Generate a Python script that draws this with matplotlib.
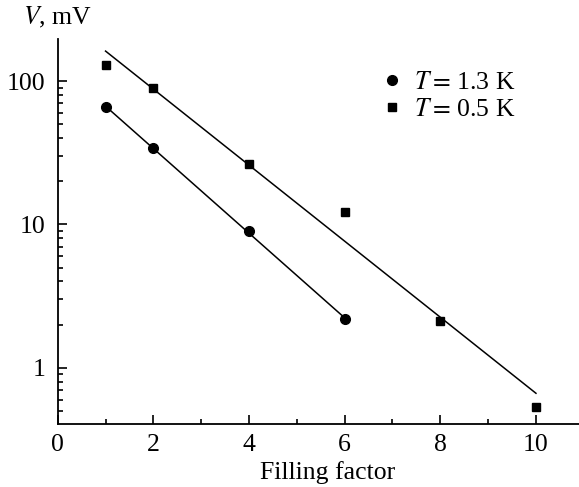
import numpy as np
import matplotlib
matplotlib.use("Agg")
import matplotlib.pyplot as plt
from matplotlib.ticker import MultipleLocator, LogLocator, FuncFormatter, NullFormatter

plt.rcParams["font.family"] = ["Liberation Serif", "DejaVu Serif"]
plt.rcParams["mathtext.fontset"] = "stix"

# data
Filling_Hot = [1, 2, 4, 6]
V_Hot = [65.6, 34.0, 9.0, 2.18]          # T = 1.3 K

Filling_Cold = [1, 2, 4, 6, 8, 10]
V_Cold = [129, 90, 26.3, 12.2, 2.13, 0.53]  # T = 0.5 K

Labels = ["$T = \\,$1.3 K", "$T = \\,$0.5 K"]

FontSize = 18.5


def Fit_Line(X, Y):
    # straight line in log scale (exponential fit)
    K, B = np.polyfit(X, np.log10(Y), 1)
    Xs = np.array([min(X), max(X)])
    return Xs, 10 ** (K * Xs + B)


Fig = plt.figure(figsize=(5.79, 4.87), dpi=100)
Ax = Fig.add_axes([0.0997, 0.1287, 0.9003, 0.7902])

Xs, Ys = Fit_Line(Filling_Hot, V_Hot)
Ax.plot(Xs, Ys, color="black", lw=1.1)
Xs, Ys = Fit_Line(Filling_Cold, V_Cold)
Ax.plot(Xs, Ys, color="black", lw=1.1)

Ax.plot(Filling_Hot, V_Hot, "o", color="black", ms=7, label=Labels[0])
Ax.plot(Filling_Cold, V_Cold, "s", color="black", ms=5.5, label=Labels[1])

Ax.set_yscale("log")
Ax.set_xlim(0, 10.9)
Ax.set_ylim(0.403, 195)

Ax.xaxis.set_major_locator(MultipleLocator(2))
Ax.xaxis.set_minor_locator(MultipleLocator(1))
Ax.yaxis.set_major_locator(LogLocator(base=10))
Ax.yaxis.set_minor_locator(LogLocator(base=10, subs=np.arange(2, 10)))
Ax.yaxis.set_major_formatter(FuncFormatter(lambda v, p: "%g" % v))
Ax.yaxis.set_minor_formatter(NullFormatter())

Ax.tick_params(which="both", direction="in", width=1.2, labelsize=FontSize,
               top=False, right=False)
Ax.tick_params(which="major", length=6.7)
Ax.tick_params(which="minor", length=3.8)
Ax.tick_params(axis="x", pad=7)
Ax.tick_params(axis="y", pad=9)

for Side in ["top", "right"]:
    Ax.spines[Side].set_visible(False)
for Side in ["left", "bottom"]:
    Ax.spines[Side].set_linewidth(1.3)

Ax.set_xlabel("Filling factor", fontsize=FontSize)
Ax.xaxis.set_label_coords(0.518, -0.095)
Ax.set_ylabel("$V$, mV", fontsize=FontSize, rotation=0, ha="center", va="center")
Ax.yaxis.set_label_coords(0.0, 1.056)

Ax.legend(loc="upper left", bbox_to_anchor=(0.605, 0.945), frameon=False,
          fontsize=FontSize, handlelength=0.7, handletextpad=0.5,
          labelspacing=0.15, borderaxespad=0)

Fig.savefig("out.png", dpi=100)
